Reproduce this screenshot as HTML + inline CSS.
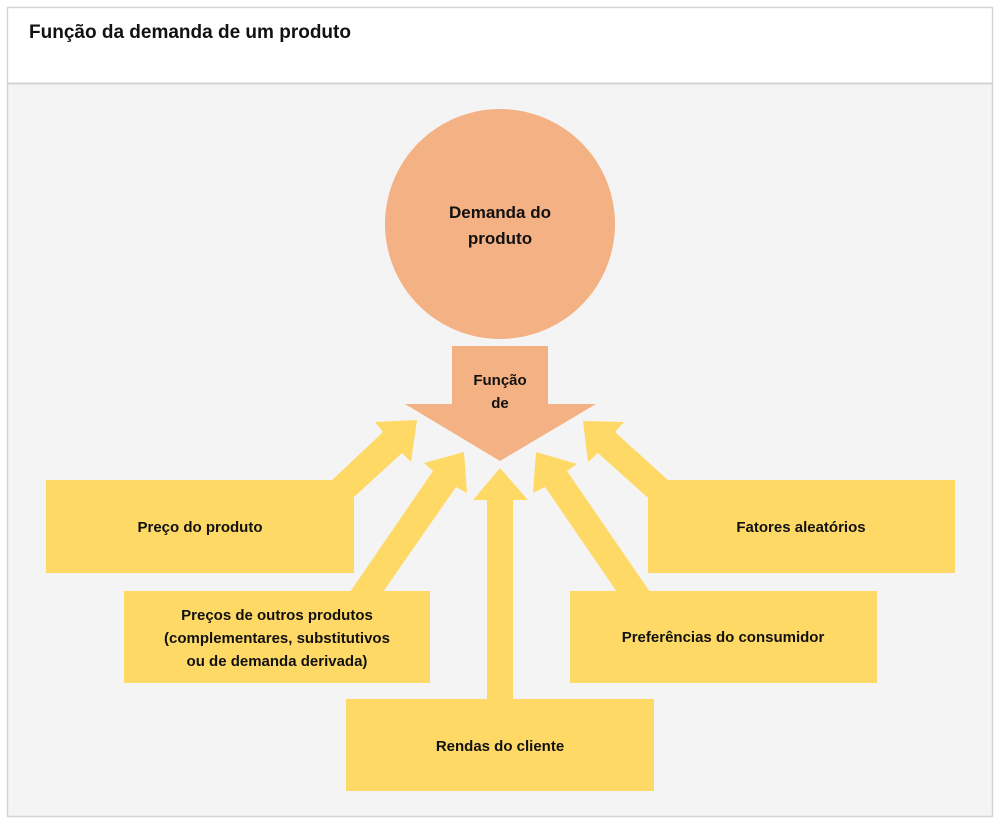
<!DOCTYPE html>
<html><head><meta charset="utf-8"><style>
html,body{margin:0;padding:0;background:#fff;}
svg{display:block;}
text{font-family:"Liberation Sans",sans-serif;font-weight:bold;fill:#111;}
</style></head><body>
<svg width="1000" height="820" viewBox="0 0 1000 820" xmlns="http://www.w3.org/2000/svg">
<rect x="0" y="0" width="1000" height="820" fill="#fff"/>
<rect x="7.5" y="7.5" width="985" height="809" fill="#f4f4f4" stroke="#d4d4d4" stroke-width="1.5"/>
<rect x="8.3" y="8.3" width="983.4" height="74.5" fill="#fff"/>
<line x1="8" y1="83.5" x2="992" y2="83.5" stroke="#d4d4d4" stroke-width="2"/>
<text x="29" y="38" font-size="19">Função da demanda de um produto</text>

<circle cx="500" cy="224" r="115" fill="#F4B183"/>
<text x="500" y="218" font-size="17" text-anchor="middle">Demanda do</text>
<text x="500" y="244" font-size="17" text-anchor="middle">produto</text>

<polygon points="452,346 548,346 548,404 596,404 500,461 405,404 452,404" fill="#F4B183"/>
<text x="500" y="385" font-size="15" text-anchor="middle">Função</text>
<text x="500" y="408" font-size="15" text-anchor="middle">de</text>

<g fill="#FFD966">
<polygon points="330,482 383,432 375,422 417,420 411,462 402,453 354,497"/>
<rect x="46" y="480" width="308" height="93"/>
<polygon points="350,592 433,471 424,463 464,452 467,493 456,487 383,592"/>
<rect x="124" y="591" width="306" height="92"/>
<polygon points="487,700 487,500 473,500 500,468 528,500 513,500 513,700"/>
<rect x="346" y="699" width="308" height="92"/>
<polygon points="650,592 567,471 577,464 536,452 533,493 545,487 617,592"/>
<rect x="570" y="591" width="307" height="92"/>
<polygon points="670,482 615,432 624,422 583,421 588,462 598,453 647,497"/>
<rect x="648" y="480" width="307" height="93"/>
</g>

<text x="200" y="532" font-size="15" text-anchor="middle">Preço do produto</text>
<text x="277" y="620" font-size="15" text-anchor="middle">Preços de outros produtos</text>
<text x="277" y="643" font-size="15" text-anchor="middle">(complementares, substitutivos</text>
<text x="277" y="666" font-size="15" text-anchor="middle">ou de demanda derivada)</text>
<text x="500" y="751" font-size="15" text-anchor="middle">Rendas do cliente</text>
<text x="723" y="642" font-size="15" text-anchor="middle">Preferências do consumidor</text>
<text x="801" y="532" font-size="15" text-anchor="middle">Fatores aleatórios</text>
</svg>
</body></html>
